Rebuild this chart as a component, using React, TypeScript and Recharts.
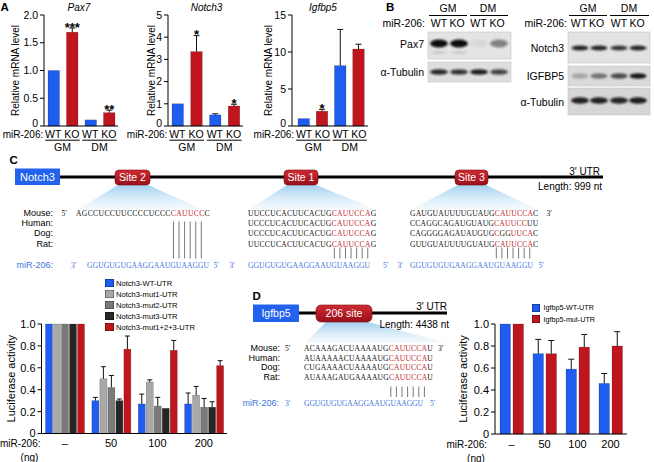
import React from "react";
import { BarChart, Bar, XAxis, YAxis, Cell, Label, Legend } from "recharts";

const FONT = "'Liberation Sans', Arial, Helvetica, sans-serif";
const SERIF = "'Liberation Serif', 'Times New Roman', serif";
const BLUE = "#1f5cf0";
const RED = "#c1151d";
const GRAY1 = "#a8a8a8";
const GRAY2 = "#7a7a7a";
const DARK = "#262626";
const SEQ_RED = "#c3262d";
const MIR_BLUE = "#3e74dd";
const BOX_BLUE = "#2262ec";

// ---------- Panel A data ----------
const aGenotypes = ["WT", "KO", "WT", "KO"];
const aConditions = ["GM", "GM", "DM", "DM"];
const pax7Values = [1.0, 1.69, 0.11, 0.24];
const pax7Errors = [0, 0.075, 0, 0.045];
const pax7Sig = ["", "***", "", "**"];
const pax7Ticks = [0, 0.5, 1, 1.5, 2];
const notch3Values = [1.0, 3.35, 0.5, 0.9];
const notch3Errors = [0, 0.72, 0.05, 0.08];
const notch3Sig = ["", "*", "", "*"];
const notch3Ticks = [0, 1, 2, 3, 4, 5];
const igfbp5Values = [1.0, 2.0, 8.15, 10.4];
const igfbp5Errors = [0, 0.25, 4.9, 0.65];
const igfbp5Sig = ["", "*", "", ""];
const igfbp5Ticks = [0, 5, 10, 15];

// ---------- Panel C data ----------
const doseLabels = ["\u2013", "50", "100", "200"];
const notch3SeriesNames = ["Notch3-WT-UTR", "Notch3-mut1-UTR", "Notch3-mut2-UTR", "Notch3-mut3-UTR", "Notch3-mut1+2+3-UTR"];
const notch3WT = [1, 0.30, 0.27, 0.27];
const notch3WTErr = [0, 0.03, 0.09, 0.10];
const notch3Mut1 = [1, 0.50, 0.47, 0.35];
const notch3Mut1Err = [0, 0.11, 0.02, 0.08];
const notch3Mut2 = [1, 0.42, 0.25, 0.24];
const notch3Mut2Err = [0, 0.11, 0.08, 0.08];
const notch3Mut3 = [1, 0.30, 0.23, 0.24];
const notch3Mut3Err = [0, 0.015, 0, 0.05];
const notch3MutAll = [1, 0.77, 0.76, 0.62];
const notch3MutAllErr = [0, 0.12, 0.09, 0.045];
const lucTicks = [0, 0.2, 0.4, 0.6, 0.8, 1];

// ---------- Panel D data ----------
const igfbp5SeriesNames = ["Igfbp5-WT-UTR", "Igfbp5-mut-UTR"];
const igfbp5WT = [1, 0.73, 0.59, 0.46];
const igfbp5WTErr = [0, 0.13, 0.09, 0.09];
const igfbp5Mut = [1, 0.73, 0.79, 0.80];
const igfbp5MutErr = [0, 0.12, 0.115, 0.13];

// ---------- Sequences ----------
type Seg = [string, boolean];
const speciesLabels = ["Mouse:", "Human:", "Dog:", "Rat:"];
const mir206Seq = "GGUGUGUGAAGGAAUGUAAGGU";
const site2Seqs: Seg[][] = [[["AGCCUCCUUCCCCUCCC", false], ["CAUUCC", true], ["C", false]]];
const site1Seqs: Seg[][] = [
  [["UUCCUCACUUCACUG", false], ["CAUUCCA", true], ["G", false]],
  [["UCCCUCACUUCACUG", false], ["CAUUCCA", true], ["G", false]],
  [["UCCCUCACUUCACUG", false], ["CAUUCCA", true], ["G", false]],
  [["UUCCUCACUUCACUG", false], ["CAUUCCA", true], ["G", false]],
];
const site3Seqs: Seg[][] = [
  [["GAUGUAUUUUGUAUG", false], ["CAUUCCA", true], ["C", false]],
  [["CCAGGCAGAUGUAUG", false], ["CAUUCC", true], ["UU", false]],
  [["CAGGGGAGAUAUGUG", false], ["C", true], ["GG", false], ["UUCA", true], ["C", false]],
  [["GUUGUAUUUUGUAUG", false], ["CAUUCCA", true], ["C", false]],
];
const igfSiteSeqs: Seg[][] = [
  [["ACAAAGACUAAAAUG", false], ["CAUUCCA", true], ["U", false]],
  [["AUAAAAACUAAAAUG", false], ["CAUUCCA", true], ["U", false]],
  [["CUGAAAACUAAAAUG", false], ["CAUUCCA", true], ["U", false]],
  [["AUAAAGAUGAAAAUG", false], ["CAUUCCA", true], ["U", false]],
];
const site2Pairs = [17, 18, 19, 20, 21, 22];
const sevenPairs = [15, 16, 17, 18, 19, 20, 21];

// ---------- Blot band intensities ----------
const pax7Bands = [1, 1, 0.05, 0.45];
const pax7LowerBands = [0.14, 0.12, 0, 0];
const tubLeftBands = [0.85, 0.8, 0.92, 0.72];
const notch3Bands = [0.9, 0.88, 0.8, 0.88];
const igfbp5Bands = [0.25, 0.5, 0.7, 0.95];
const tubRightBands = [0.9, 0.9, 0.88, 0.92];

const fmt1 = (v: number) => (v === 0 ? "0" : v.toFixed(1));
const fmtInt = (v: number) => String(v);

function makeBarShape(valueKey: string, errKey: string, capHalf: number, sigKey?: string) {
  return (props: any) => {
    const { x, y, width, height, fill, payload } = props;
    if (x == null || !payload) return <g />;
    const v = Number(payload[valueKey]) || 0;
    const e = Number(payload[errKey]) || 0;
    const ppu = v > 0 ? height / v : 0;
    const cx = x + width / 2;
    const ey = y - e * ppu;
    const sig = sigKey ? payload[sigKey] : "";
    return (
      <g>
        <rect x={x} y={y} width={width} height={Math.max(height, 0)} fill={fill} stroke="rgba(0,0,0,0.35)" strokeWidth={0.5} />
        {e > 0 && (
          <g stroke="#111" strokeWidth={1} fill="none">
            <line x1={cx} x2={cx} y1={y} y2={ey} />
            <line x1={cx - capHalf} x2={cx + capHalf} y1={ey} y2={ey} />
          </g>
        )}
        {sig ? (
          <text x={cx} y={ey + 3.5} textAnchor="middle" fontSize={13} fontWeight="bold" fontFamily={FONT} fill="#000">
            {sig}
          </text>
        ) : null}
      </g>
    );
  };
}

function yLabel(text: string, dist: number, fontSize: number) {
  return (
    <Label
      content={(p: any) => {
        const vb = p.viewBox || { x: 0, y: 0, width: 0, height: 0 };
        const x = vb.x + vb.width - dist;
        const y = vb.y + vb.height / 2;
        return (
          <text x={x} y={y} transform={`rotate(-90 ${x} ${y})`} textAnchor="middle" dominantBaseline="central" fontSize={fontSize} fontFamily={FONT} fill="#000">
            {text}
          </text>
        );
      }}
    />
  );
}

const MrnaYTick = (props: any) => {
  const { x, y, payload, fmt } = props;
  const isZero = payload.value === 0;
  return (
    <text x={x} y={y} dy={isZero ? 0.5 : 3.7} textAnchor="end" fontSize={10.5} fontFamily={FONT} fill="#000">
      {fmt(payload.value)}
    </text>
  );
};

const GenoTick = (props: any) => {
  const { x, y, payload, index, fallbackHalf } = props;
  const half = payload && typeof payload.offset === "number" && payload.offset > 3 ? payload.offset : fallbackHalf;
  const band = half * 2;
  return (
    <g fontFamily={FONT} fontSize={10.5} fill="#000">
      <text x={x} y={y + 12} textAnchor="middle">{payload.value}</text>
      {index % 2 === 0 && (
        <g>
          <line x1={x - 8} x2={x + band + 8} y1={y + 14.2} y2={y + 14.2} stroke="#000" strokeWidth={1} />
          <text x={x + band / 2} y={y + 24.5} textAnchor="middle">{aConditions[index]}</text>
        </g>
      )}
      {index === 0 && (
        <text x={x - 10} y={y + 12} textAnchor="end" fontSize={10}>miR-206:</text>
      )}
    </g>
  );
};

const DoseTick = (props: any) => {
  const { x, y, payload, index, gap, fallbackHalf } = props;
  const half = payload && typeof payload.offset === "number" && payload.offset > 3 ? payload.offset : fallbackHalf;
  const end = x - half - gap;
  return (
    <g fontFamily={FONT} fill="#000">
      <text x={x} y={y + 13.5} textAnchor="middle" fontSize={11}>{payload.value}</text>
      {index === 0 && (
        <g fontSize={10}>
          <text x={end} y={y + 13.5} textAnchor="end">miR-206:</text>
          <text x={end - 11} y={y + 27.5} textAnchor="middle">(ng)</text>
        </g>
      )}
    </g>
  );
};

const legendContent = (order: string[], size: number, rowH: number, fontSize: number, gap: number) => (props: any) => {
  const items = [...(props.payload || [])].sort((a: any, b: any) => order.indexOf(a.value) - order.indexOf(b.value));
  return (
    <div style={{ fontFamily: FONT, fontSize, color: "#000", lineHeight: `${rowH}px` }}>
      {items.map((e: any, i: number) => (
        <div key={i} style={{ display: "flex", alignItems: "center", height: rowH, whiteSpace: "nowrap" }}>
          <span style={{ display: "inline-block", width: size, height: size, background: e.color, boxShadow: "inset 0 0 0 0.6px rgba(0,0,0,0.55)", marginRight: gap }} />
          <span>{e.value}</span>
        </div>
      ))}
    </div>
  );
};

type MrnaProps = {
  left: number; width: number; values: number[]; errors: number[]; sig: string[]; ticks: number[];
  domainMax: number; yAxisWidth: number; marginRight: number; labelDist: number; padLeft: number;
  fmt: (v: number) => string; half: number;
};

function MrnaChart(p: MrnaProps) {
  const data = aGenotypes.map((g, i) => ({ geno: g, cond: aConditions[i], value: p.values[i], err: p.errors[i], sig: p.sig[i] }));
  return (
    <div style={{ position: "absolute", left: p.left, top: 0 }}>
      <BarChart width={p.width} height={153} data={data} margin={{ top: 15, right: p.marginRight, bottom: 0, left: 0 }}>
        <XAxis
          dataKey="geno"
          interval={0}
          tickLine={false}
          axisLine={{ stroke: "#000" }}
          height={27}
          tickSize={0}
          tickMargin={0}
          padding={{ left: p.padLeft, right: 0 }}
          tick={(tp: any) => <GenoTick {...tp} fallbackHalf={p.half} />}
        />
        <YAxis
          domain={[0, p.domainMax]}
          ticks={p.ticks}
          interval={0}
          width={p.yAxisWidth}
          tickSize={4}
          tickMargin={2}
          axisLine={{ stroke: "#000" }}
          tickLine={{ stroke: "#000" }}
          tick={(tp: any) => <MrnaYTick {...tp} fmt={p.fmt} />}
        >
          {yLabel("Relative mRNA level", p.labelDist, 10)}
        </YAxis>
        <Bar dataKey="value" barSize={11.5} isAnimationActive={false} shape={makeBarShape("value", "err", 3, "sig")}>
          {data.map((d, i) => (
            <Cell key={i} fill={d.geno === "WT" ? BLUE : RED} />
          ))}
        </Bar>
      </BarChart>
    </div>
  );
}

function Notch3Luciferase() {
  const data = doseLabels.map((d, i) => ({
    dose: d,
    wt: notch3WT[i], wtErr: notch3WTErr[i],
    m1: notch3Mut1[i], m1Err: notch3Mut1Err[i],
    m2: notch3Mut2[i], m2Err: notch3Mut2Err[i],
    m3: notch3Mut3[i], m3Err: notch3Mut3Err[i],
    mall: notch3MutAll[i], mallErr: notch3MutAllErr[i],
  }));
  const series = [
    { key: "wt", color: BLUE },
    { key: "m1", color: GRAY1 },
    { key: "m2", color: GRAY2 },
    { key: "m3", color: DARK },
    { key: "mall", color: RED },
  ];
  return (
    <div style={{ position: "absolute", left: 0, top: 276 }}>
      <BarChart width={240} height={186} data={data} margin={{ top: 48, right: 13, bottom: 0, left: 0 }} barGap={1}>
        <XAxis
          dataKey="dose"
          interval={0}
          tickLine={false}
          axisLine={{ stroke: "#000" }}
          height={28.5}
          tickSize={0}
          tickMargin={0}
          tick={(tp: any) => <DoseTick {...tp} gap={1} fallbackHalf={23.2} />}
        />
        <YAxis
          domain={[0, 1]}
          ticks={lucTicks}
          interval={0}
          width={41.5}
          tickSize={4}
          tickMargin={2}
          tickFormatter={fmt1}
          axisLine={{ stroke: "#000" }}
          tickLine={{ stroke: "#000" }}
          tick={{ fontSize: 11, fill: "#000", fontFamily: FONT }}
        >
          {yLabel("Luciferase activity", 31, 11)}
        </YAxis>
        <Legend
          layout="vertical"
          align="center"
          verticalAlign="middle"
          itemSorter={(item: any) => notch3SeriesNames.indexOf(item.value)}
          wrapperStyle={{ left: 105, top: 1.5, width: 130 }}
          content={legendContent(notch3SeriesNames, 8.5, 11, 7.6, 2.5)}
        />
        {series.map((s, i) => (
          <Bar
            key={s.key}
            dataKey={s.key}
            name={notch3SeriesNames[i]}
            fill={s.color}
            barSize={7}
            isAnimationActive={false}
            shape={makeBarShape(s.key, s.key + "Err", 2.5)}
          />
        ))}
      </BarChart>
    </div>
  );
}

function Igfbp5Luciferase() {
  const data = doseLabels.map((d, i) => ({
    dose: d,
    wt: igfbp5WT[i], wtErr: igfbp5WTErr[i],
    mut: igfbp5Mut[i], mutErr: igfbp5MutErr[i],
  }));
  return (
    <div style={{ position: "absolute", left: 440, top: 290 }}>
      <BarChart width={214} height={172} data={data} margin={{ top: 34, right: 27, bottom: 0, left: 0 }} barGap={2.5}>
        <XAxis
          dataKey="dose"
          interval={0}
          tickLine={false}
          axisLine={{ stroke: "#000" }}
          height={28}
          tickSize={0}
          tickMargin={0}
          tick={(tp: any) => <DoseTick {...tp} gap={8} fallbackHalf={16.4} />}
        />
        <YAxis
          domain={[0, 1]}
          ticks={lucTicks}
          interval={0}
          width={55}
          tickSize={4}
          tickMargin={2}
          tickFormatter={fmt1}
          axisLine={{ stroke: "#000" }}
          tickLine={{ stroke: "#000" }}
          tick={{ fontSize: 11, fill: "#000", fontFamily: FONT }}
        >
          {yLabel("Luciferase activity", 32, 11)}
        </YAxis>
        <Legend
          layout="vertical"
          align="center"
          verticalAlign="middle"
          itemSorter={(item: any) => igfbp5SeriesNames.indexOf(item.value)}
          wrapperStyle={{ left: 92, top: 12.2, width: 110 }}
          content={legendContent(igfbp5SeriesNames, 8, 11.5, 7.2, 3.5)}
        />
        <Bar dataKey="wt" name={igfbp5SeriesNames[0]} fill={BLUE} barSize={10.5} isAnimationActive={false} shape={makeBarShape("wt", "wtErr", 3)} />
        <Bar dataKey="mut" name={igfbp5SeriesNames[1]} fill={RED} barSize={10.5} isAnimationActive={false} shape={makeBarShape("mut", "mutErr", 3)} />
      </BarChart>
    </div>
  );
}

function SeqText({ x, y, segs, len, color = "#111" }: { x: number; y: number; segs: Seg[]; len: number; color?: string }) {
  return (
    <text x={x} y={y} textLength={len} lengthAdjust="spacing" fontFamily={SERIF} fontSize={7.6} fill={color}>
      {segs.map(([t, red], i) => (
        <tspan key={i} fill={red ? SEQ_RED : color}>{t}</tspan>
      ))}
    </text>
  );
}

function Prime({ x, y, t, color = "#111" }: { x: number; y: number; t: string; color?: string }) {
  return (
    <text x={x} y={y} fontFamily={SERIF} fontSize={7.6} fill={color}>{t}</text>
  );
}

function Blot({ cy, lanes, intens, rx, ry }: { cy: number; lanes: number[]; intens: number[]; rx: number; ry: number }) {
  return (
    <g>
      {intens.map((v, i) =>
        v > 0.02 ? <ellipse key={i} cx={lanes[i]} cy={cy} rx={rx} ry={ry} fill="#111" opacity={v} filter="url(#bandBlur)" /> : null
      )}
    </g>
  );
}

function Overlay() {
  const leftLanes = [439, 459, 479, 499];
  const rightLanes = [580, 599, 619, 638];
  const cRowY = [215.9, 226.1, 236.4, 246.6];
  const dRowY = [351, 361, 370.4, 380.4];
  const cw = 5.57;
  const dw = 5.6;
  const sites = [
    { label: "Site 2", x: 115, w: 35 },
    { label: "Site 1", x: 284, w: 34 },
    { label: "Site 3", x: 455, w: 33 },
  ];
  const fans = [
    "118,185 148,185 204,210 77,210",
    "287,185 316,185 377,210 248,210",
    "458,185 486,185 538,210 410,210",
    "326,322 368,322 447,343 305,343",
  ];
  return (
    <svg width={654} height={462} style={{ position: "absolute", left: 0, top: 0, pointerEvents: "none" }} fontFamily={FONT}>
      <defs>
        <linearGradient id="fanGrad" x1="0" y1="0" x2="0" y2="1">
          <stop offset="0" stopColor="#9ccdee" stopOpacity={0.95} />
          <stop offset="1" stopColor="#e4f2fb" stopOpacity={0.35} />
        </linearGradient>
        <linearGradient id="siteGrad" x1="0" y1="0" x2="0" y2="1">
          <stop offset="0" stopColor="#cf2a31" />
          <stop offset="1" stopColor="#99101a" />
        </linearGradient>
        <filter id="bandBlur" x="-50%" y="-150%" width="200%" height="400%">
          <feGaussianBlur stdDeviation="1.1" />
        </filter>
      </defs>

      {/* Panel letters */}
      <g fontWeight="bold" fontSize={11.5} fill="#000">
        <text x={0.5} y={10.5}>A</text>
        <text x={386} y={10.5}>B</text>
        <text x={9.5} y={164}>C</text>
        <text x={252.5} y={300}>D</text>
      </g>

      {/* Panel A titles */}
      <g fontStyle="italic" fontSize={10} textAnchor="middle" fill="#000">
        <text x={79} y={11}>Pax7</text>
        <text x={206.5} y={11}>Notch3</text>
        <text x={323} y={11}>Igfbp5</text>
      </g>

      {/* Panel B labels */}
      <g fontSize={10.5} fill="#000">
        <text x={448} y={12} textAnchor="middle">GM</text>
        <text x={488} y={12} textAnchor="middle">DM</text>
        <line x1={429} x2={467} y1={15.5} y2={15.5} stroke="#000" strokeWidth={1} />
        <line x1={470} x2={508} y1={15.5} y2={15.5} stroke="#000" strokeWidth={1} />
        <text x={425} y={27} textAnchor="end">miR-206:</text>
        {["WT", "KO", "WT", "KO"].map((t, i) => (
          <text key={"l" + i} x={[439, 457, 478.5, 497][i]} y={27} textAnchor="middle">{t}</text>
        ))}
        <text x={424} y={47.5} textAnchor="end">Pax7</text>
        <text x={424} y={75.5} textAnchor="end">α-Tubulin</text>

        <text x={588} y={12} textAnchor="middle">GM</text>
        <text x={629} y={12} textAnchor="middle">DM</text>
        <line x1={569} x2={607} y1={15.5} y2={15.5} stroke="#000" strokeWidth={1} />
        <line x1={610} x2={649} y1={15.5} y2={15.5} stroke="#000" strokeWidth={1} />
        <text x={567} y={27} textAnchor="end">miR-206:</text>
        {["WT", "KO", "WT", "KO"].map((t, i) => (
          <text key={"r" + i} x={[579, 596.5, 619, 637][i]} y={27} textAnchor="middle">{t}</text>
        ))}
        <text x={564} y={52} textAnchor="end">Notch3</text>
        <text x={564} y={80} textAnchor="end">IGFBP5</text>
        <text x={564} y={105.5} textAnchor="end">α-Tubulin</text>
      </g>
      <g>
        <rect x={428} y={32} width={83} height={27} fill="#e4e4e4" stroke="#c2c2c2" strokeWidth={0.6} />
        <rect x={428} y={62} width={83} height={20} fill="#dedede" stroke="#c2c2c2" strokeWidth={0.6} />
        <rect x={568} y={32} width={82} height={31} fill="#e2e2e2" stroke="#c2c2c2" strokeWidth={0.6} />
        <rect x={568} y={66} width={82} height={20} fill="#dadada" stroke="#c2c2c2" strokeWidth={0.6} />
        <rect x={568} y={88} width={82} height={27} fill="#d6d6d6" stroke="#c2c2c2" strokeWidth={0.6} />
        <Blot cy={43.5} lanes={leftLanes} intens={pax7Bands} rx={9} ry={4} />
        <Blot cy={52.5} lanes={leftLanes} intens={pax7LowerBands} rx={8} ry={1.5} />
        <Blot cy={72} lanes={leftLanes} intens={tubLeftBands} rx={9} ry={2.8} />
        <Blot cy={48} lanes={rightLanes} intens={notch3Bands} rx={8.5} ry={2.6} />
        <Blot cy={76} lanes={rightLanes} intens={igfbp5Bands} rx={8.5} ry={2.7} />
        <Blot cy={100.5} lanes={rightLanes} intens={tubRightBands} rx={9} ry={3.3} />
      </g>

      {/* Panel C gene diagram */}
      {fans.map((pts, i) => (
        <polygon key={i} points={pts} fill="url(#fanGrad)" />
      ))}
      <line x1={60} x2={603} y1={177} y2={177} stroke="#000" strokeWidth={3.2} />
      <rect x={15} y={168.5} width={45} height={16.5} fill={BOX_BLUE} />
      <text x={37.5} y={180.8} textAnchor="middle" fontSize={11} fill="#fff">Notch3</text>
      {sites.map((s) => (
        <g key={s.label}>
          <rect x={s.x} y={170} width={s.w} height={15} rx={4} fill="url(#siteGrad)" stroke="#7a0a10" strokeWidth={0.6} />
          <text x={s.x + s.w / 2} y={181.2} textAnchor="middle" fontSize={10.5} fill="#fff">{s.label}</text>
        </g>
      ))}
      <text x={600} y={174.5} textAnchor="end" fontSize={10}>3′ UTR</text>
      <text x={602} y={189.5} textAnchor="end" fontSize={10}>Length: 999 nt</text>

      {speciesLabels.map((s, i) => (
        <text key={s} x={53} y={cRowY[i]} textAnchor="end" fontSize={9}>{s}</text>
      ))}
      <text x={53} y={268.2} textAnchor="end" fontSize={9} fill={MIR_BLUE}>miR-206:</text>

      <Prime x={61.5} y={cRowY[0]} t="5′" />
      {site2Seqs.map((segs, i) => (
        <SeqText key={"s2" + i} x={76} y={cRowY[i]} segs={segs} len={24 * cw} />
      ))}
      {site1Seqs.map((segs, i) => (
        <SeqText key={"s1" + i} x={248} y={cRowY[i]} segs={segs} len={23 * cw} />
      ))}
      {site3Seqs.map((segs, i) => (
        <SeqText key={"s3" + i} x={410} y={cRowY[i]} segs={segs} len={23 * cw} />
      ))}
      <Prime x={546.5} y={cRowY[0]} t="3′" />

      <g stroke="#555" strokeWidth={0.8}>
        {site2Pairs.map((c) => (
          <line key={"p2" + c} x1={76 + (c + 0.5) * cw} x2={76 + (c + 0.5) * cw} y1={221.5} y2={258.5} />
        ))}
        {sevenPairs.map((c) => (
          <line key={"p1" + c} x1={248 + (c + 0.5) * cw} x2={248 + (c + 0.5) * cw} y1={247.5} y2={258.5} />
        ))}
        {sevenPairs.map((c) => (
          <line key={"p3" + c} x1={410 + (c + 0.5) * cw} x2={410 + (c + 0.5) * cw} y1={247.5} y2={258.5} />
        ))}
        {sevenPairs.map((c) => (
          <line key={"pd" + c} x1={304 + (c + 0.5) * dw} x2={304 + (c + 0.5) * dw} y1={386.5} y2={397} />
        ))}
      </g>

      <Prime x={71} y={268.2} t="3′" color={MIR_BLUE} />
      <SeqText x={87.1} y={268.2} segs={[[mir206Seq, false]]} len={122} color={MIR_BLUE} />
      <Prime x={213.5} y={268.2} t="5′" color={MIR_BLUE} />
      <Prime x={229.5} y={268.2} t="3′" color={MIR_BLUE} />
      <SeqText x={248} y={268.2} segs={[[mir206Seq, false]]} len={122} color={MIR_BLUE} />
      <Prime x={383} y={268.2} t="5′" color={MIR_BLUE} />
      <Prime x={397.5} y={268.2} t="3′" color={MIR_BLUE} />
      <SeqText x={410} y={268.2} segs={[[mir206Seq, false]]} len={123} color={MIR_BLUE} />
      <Prime x={538.5} y={268.2} t="5′" color={MIR_BLUE} />

      {/* Panel D gene diagram */}
      <line x1={299} x2={447} y1={313} y2={313} stroke="#000" strokeWidth={3.2} />
      <rect x={253} y={304.5} width={46} height={17.5} fill={BOX_BLUE} />
      <text x={276} y={317} textAnchor="middle" fontSize={10.5} fill="#fff">Igfbp5</text>
      <rect x={316} y={305} width={56} height={17} rx={5} fill="url(#siteGrad)" stroke="#7a0a10" strokeWidth={0.6} />
      <text x={344} y={317.3} textAnchor="middle" fontSize={10.5} fill="#fff">206 site</text>
      <text x={447} y={310} textAnchor="end" fontSize={10}>3′ UTR</text>
      <text x={449} y={327.5} textAnchor="end" fontSize={10}>Length: 4438 nt</text>

      {speciesLabels.map((s, i) => (
        <text key={"d" + s} x={280} y={dRowY[i]} textAnchor="end" fontSize={9}>{s}</text>
      ))}
      <text x={279} y={406} textAnchor="end" fontSize={9} fill={MIR_BLUE}>miR-206:</text>
      <Prime x={285} y={dRowY[0]} t="5′" />
      {igfSiteSeqs.map((segs, i) => (
        <SeqText key={"ds" + i} x={304} y={dRowY[i]} segs={segs} len={23 * dw} />
      ))}
      <Prime x={438} y={dRowY[0]} t="3′" />
      <Prime x={285} y={406} t="3′" color={MIR_BLUE} />
      <SeqText x={304} y={406} segs={[[mir206Seq, false]]} len={119} color={MIR_BLUE} />
      <Prime x={430} y={406} t="5′" color={MIR_BLUE} />
    </svg>
  );
}

export default function App() {
  return (
    <div style={{ position: "absolute", left: 0, top: 0, width: 654, height: 462, background: "#fff", fontFamily: FONT, overflow: "hidden" }}>
      <MrnaChart left={0} width={125} values={pax7Values} errors={pax7Errors} sig={pax7Sig} ticks={pax7Ticks} domainMax={2} yAxisWidth={44} marginRight={7} labelDist={29} padLeft={0} fmt={fmt1} half={9.3} />
      <MrnaChart left={123} width={125} values={notch3Values} errors={notch3Errors} sig={notch3Sig} ticks={notch3Ticks} domainMax={5} yAxisWidth={45} marginRight={5} labelDist={17} padLeft={0} fmt={fmtInt} half={9.4} />
      <MrnaChart left={248} width={124} values={igfbp5Values} errors={igfbp5Errors} sig={igfbp5Sig} ticks={igfbp5Ticks} domainMax={15} yAxisWidth={44} marginRight={4} labelDist={24} padLeft={3} fmt={fmtInt} half={9.1} />
      <Notch3Luciferase />
      <Igfbp5Luciferase />
      <Overlay />
    </div>
  );
}
